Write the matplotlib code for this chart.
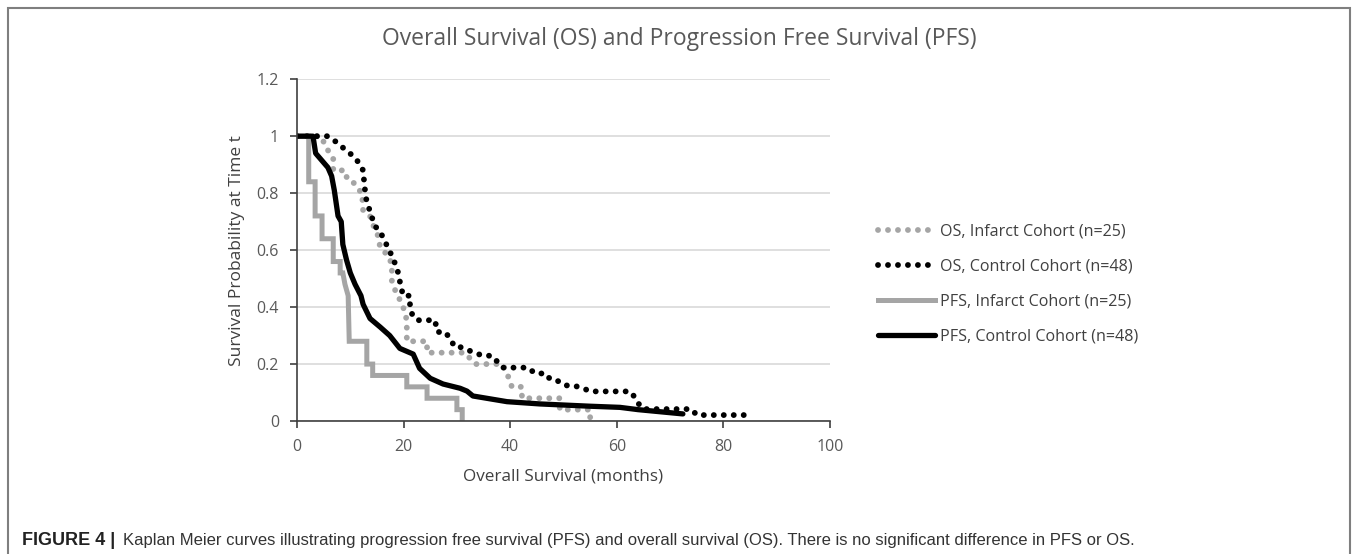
import matplotlib.pyplot as plt
from matplotlib.patches import Rectangle

# Kaplan-Meier curves (months, survival probability)
os_inf_t = [0, 4.5, 5.5, 6.8, 6.8, 9, 9.4, 10.5, 11.2, 12.2, 12.4, 13.7, 14, 15.2, 15.6, 17.1, 17.8,
            17.8, 18.4, 19.7, 20.3, 20.6, 20.6, 24.4, 24.4, 31.5, 33.4, 38.6, 40, 40.3, 42.2, 42.2,
            49.3, 49.3, 55, 55]
os_inf_s = [1.0, 1.0, 0.96, 0.92, 0.88, 0.88, 0.85, 0.84, 0.82, 0.80, 0.74, 0.72, 0.70, 0.65, 0.61,
            0.58, 0.55, 0.49, 0.46, 0.41, 0.38, 0.35, 0.28, 0.28, 0.24, 0.24, 0.20, 0.20, 0.14, 0.12,
            0.12, 0.08, 0.08, 0.04, 0.04, 0.0]

os_ctl_t = [0, 5.8, 6.6, 7.7, 8.6, 9.9, 10.9, 11.8, 12.4, 12.6, 12.9, 13.7, 14.6, 15.6, 16.9, 17.8,
            18.8, 19.3, 19.9, 21.2, 21.2, 21.6, 22.5, 25.9, 26.3, 27.8, 28.7, 29.6, 30.6, 31.9, 33.4,
            34.7, 36.6, 37.5, 38.5, 43.3, 44.7, 46.7, 47.5, 49, 50.3, 51.8, 53.7, 55, 62.5, 63.4,
            64, 65, 74, 75, 84.6]
os_ctl_s = [1.0, 1.0, 0.99, 0.975, 0.96, 0.94, 0.925, 0.90, 0.88, 0.84, 0.785, 0.735, 0.685, 0.665,
            0.615, 0.58, 0.535, 0.49, 0.44, 0.44, 0.405, 0.375, 0.354, 0.354, 0.3125, 0.3125, 0.29,
            0.26, 0.26, 0.25, 0.24, 0.23, 0.229, 0.21, 0.1875, 0.1875, 0.167, 0.167, 0.146, 0.14,
            0.125, 0.125, 0.115, 0.104, 0.104, 0.083, 0.0625, 0.042, 0.042, 0.021, 0.021]

pfs_inf_t = [0, 2.2, 2.2, 3.4, 3.4, 4.7, 4.7, 6.8, 6.8, 8.1, 8.1, 8.6, 9.0, 9.6, 9.8, 13.1, 13.1,
             14.2, 14.2, 20.6, 20.6, 24.4, 24.4, 30, 30, 31, 31]
pfs_inf_s = [1.0, 1.0, 0.84, 0.84, 0.72, 0.72, 0.64, 0.64, 0.56, 0.56, 0.52, 0.52, 0.48, 0.44, 0.28,
             0.28, 0.20, 0.20, 0.16, 0.16, 0.12, 0.12, 0.08, 0.08, 0.04, 0.04, 0.0]

pfs_ctl_t = [0, 3, 3.5, 5.8, 6.5, 7, 7.7, 8.3, 8.6, 9.3, 10, 10.9, 12, 12.4, 13.7, 15.6, 17.4, 19.3,
             21.8, 23, 25, 27.4, 30.6, 31.9, 33, 39.4, 45.6, 55, 60.6, 64, 72.4]
pfs_ctl_s = [1.0, 1.0, 0.94, 0.89, 0.86, 0.81, 0.72, 0.70, 0.62, 0.565, 0.52, 0.48, 0.44, 0.41,
             0.36, 0.33, 0.30, 0.255, 0.235, 0.185, 0.15, 0.13, 0.115, 0.105, 0.088, 0.068, 0.06,
             0.052, 0.048, 0.04, 0.025]

labels = ["OS, Infarct Cohort (n=25)", "OS, Control Cohort (n=48)",
          "PFS, Infarct Cohort (n=25)", "PFS, Control Cohort (n=48)"]

grey = "#a5a5a5"
font = "Open Sans"

fig = plt.figure(figsize=(13.58, 5.54), dpi=100)
ax = fig.add_axes([0.2187, 0.240, 0.3925, 0.617])

dots = (0, (0.01, 1.7))
ax.plot(os_inf_t, os_inf_s, color=grey, lw=4.2, linestyle=dots, dash_capstyle="round", label=labels[0])
ax.plot(os_ctl_t, os_ctl_s, color="black", lw=4.2, linestyle=dots, dash_capstyle="round", label=labels[1])
ax.plot(pfs_inf_t, pfs_inf_s, color=grey, lw=3.6, solid_joinstyle="miter", label=labels[2])
ax.plot(pfs_ctl_t, pfs_ctl_s, color="black", lw=3.8, solid_capstyle="round", label=labels[3])

ax.set_xlim(0, 100)
ax.set_ylim(0, 1.2)
ax.set_xticks([0, 20, 40, 60, 80, 100])
ax.set_yticks([0, 0.2, 0.4, 0.6, 0.8, 1.0, 1.2])
ax.set_yticklabels(["0", "0.2", "0.4", "0.6", "0.8", "1", "1.2"])
ax.grid(axis="y", color="#d9d9d9", lw=1.2)
ax.set_axisbelow(True)
for s in ["top", "right"]:
    ax.spines[s].set_visible(False)
for s in ["left", "bottom"]:
    ax.spines[s].set_color("#404040")
    ax.spines[s].set_linewidth(1.2)
ax.tick_params(axis="both", colors="#404040", labelcolor="#595959", labelsize=11.5, length=5, width=1.2)
ax.tick_params(axis="y", pad=8)
ax.tick_params(axis="x", pad=8)
for lab in ax.get_xticklabels() + ax.get_yticklabels():
    lab.set_fontfamily(font)

ax.set_xlabel("Overall Survival (months)", fontsize=12.3, color="#404040", family=font, labelpad=10)
ax.set_ylabel("Survival Probability at Time t", fontsize=12.5, color="#404040", family=font, labelpad=8)

fig.text(0.5, 0.93, "Overall Survival (OS) and Progression Free Survival (PFS)", ha="center", va="center",
         fontsize=16.5, color="#595959", family=font)

leg = ax.legend(loc="center left", bbox_to_anchor=(0.636, 0.487), bbox_transform=fig.transFigure,
                frameon=False, handlelength=3.5, handletextpad=0.33, labelspacing=1.17,
                prop={"family": font, "size": 11.6})
for t in leg.get_texts():
    t.set_color("#404040")

# outer caption frame
fig.patches.append(Rectangle((0.006, -0.01), 0.988, 0.995, transform=fig.transFigure, fill=False,
                             edgecolor="#7f7f7f", lw=1.5))

fig.text(0.016, 0.017, "FIGURE 4 |", fontsize=13, fontweight="bold", family="Liberation Sans",
         color="#222222", va="baseline")
fig.text(0.0906, 0.017, "Kaplan Meier curves illustrating progression free survival (PFS) and overall survival (OS). "
         "There is no significant difference in PFS or OS.", fontsize=12, family="Liberation Sans",
         color="#333333", va="baseline")

fig.savefig("out.png", dpi=100)
